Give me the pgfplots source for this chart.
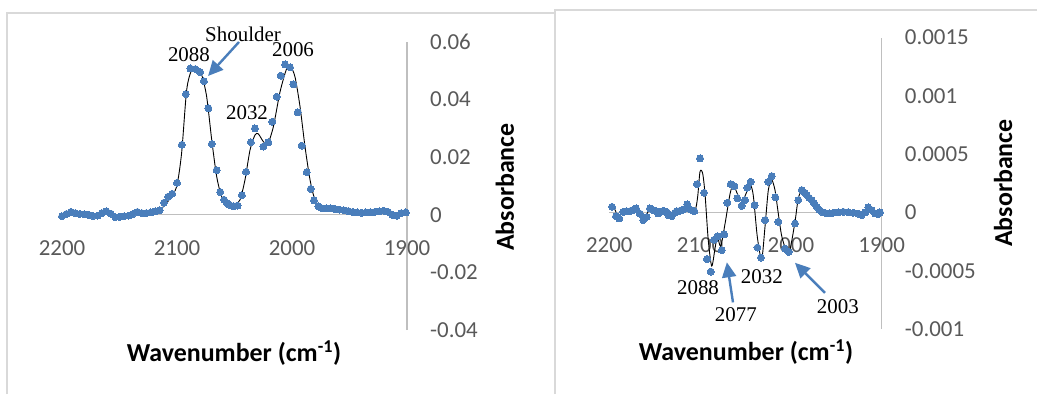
\documentclass[border=0pt]{standalone}
\usepackage{pgfplots}
\pgfplotsset{compat=1.18}
\usepackage{fontspec}
\setmainfont{Carlito}
\newfontfamily\timesf{Liberation Serif}
\usetikzlibrary{arrows.meta}
\definecolor{dotblue}{RGB}{74,126,187}
\definecolor{axgray}{RGB}{191,191,191}
\definecolor{tickgray}{RGB}{89,89,89}
\definecolor{framegray}{RGB}{217,217,217}

\pgfplotsset{
  irstyle/.style={
    scale only axis,
    clip=false,
    x dir=reverse,
    xmin=1900, xmax=2200,
    axis x line=middle,
    axis y line=right,
    axis line style={-, draw=axgray, line width=1.3bp},
    every inner x axis line/.append style={-},
    every outer y axis line/.append style={-},
    every inner y axis line/.append style={-},
    hide obscured x ticks=false,
    scaled y ticks=false,
    scaled x ticks=false,
    major tick length=0pt,
    xtick={1900,2000,2100,2200},
    xticklabels={1900,2000,2100,2200},
    tick label style={font=\fontsize{23}{23}\selectfont, text=tickgray},
    xticklabel style={anchor=center, yshift=-33bp},
    yticklabel style={anchor=west, inner sep=0pt, xshift=23bp},
  },
  dots/.style={only marks, color=dotblue, mark=*, mark size=3.5bp, mark options={draw=dotblue, fill=dotblue, line width=0pt}},
  fitline/.style={black, line width=0.9bp, no marks, smooth, tension=0.45},
}
\tikzset{
  annot/.style={font=\timesf\fontsize{21}{21}\selectfont, text=black, inner sep=0pt},
  arr/.style={draw=dotblue, line width=2.4bp, -{Triangle[length=15bp,width=14bp]}},
  ttl/.style={font=\bfseries\fontsize{26}{26}\selectfont, text=black, inner sep=0pt},
}

\begin{document}
\begin{tikzpicture}[x=1bp,y=1bp]
\path[use as bounding box] (0,0) rectangle (1037,394);
% panel frames
\draw[framegray, line width=1.5bp] (7,0) -- (7,381) -- (555,381);
\draw[framegray, line width=1.5bp] (555,0) -- (555,384) -- (1037,384);

% ---------------- left panel ----------------
\begin{axis}[irstyle, at={(234.5bp,208bp)}, anchor=center, width=345bp, height=288bp,
  ymin=-0.04, ymax=0.06, ytick={-0.04,-0.02,0,0.02,0.04,0.06},
  yticklabels={-0.04,-0.02,0,0.02,0.04,0.06}]
\addplot[dots] table {
x y
2200.0 -0.0005
2196.1 0.0003
2192.3 0.0010
2188.4 0.0006
2184.6 0.0003
2180.7 0.0002
2176.9 0.0000
2173.0 -0.0004
2169.1 -0.0003
2165.3 0.0006
2161.4 0.0012
2157.6 0.0004
2153.7 -0.0008
2149.9 -0.0007
2146.0 -0.0005
2142.1 -0.0003
2138.3 0.0003
2134.4 0.0010
2130.6 0.0006
2126.7 0.0006
2122.9 0.0008
2119.0 0.0012
2115.1 0.0016
2111.3 0.0042
2107.6 0.0063
2104.2 0.0073
2100.0 0.0111
2095.8 0.0243
2092.3 0.0419
2088.4 0.0508
2084.0 0.0506
2080.0 0.0496
2076.6 0.0464
2072.7 0.0370
2069.7 0.0246
2065.5 0.0155
2062.4 0.0079
2059.0 0.0052
2056.5 0.0040
2054.4 0.0035
2050.8 0.0030
2047.3 0.0032
2043.6 0.0068
2040.0 0.0149
2035.8 0.0252
2032.2 0.0300
2024.9 0.0237
2020.6 0.0252
2017.1 0.0323
2013.3 0.0410
2009.8 0.0483
2006.0 0.0522
2001.7 0.0512
1998.8 0.0453
1995.0 0.0356
1991.6 0.0240
1987.2 0.0148
1983.7 0.0090
1980.9 0.0050
1977.1 0.0029
1974.2 0.0023
1970.4 0.0022
1966.5 0.0022
1962.7 0.0020
1958.8 0.0018
1955.0 0.0016
1951.1 0.0013
1947.2 0.0010
1943.4 0.0008
1939.5 0.0007
1935.7 0.0008
1931.8 0.0009
1928.0 0.0010
1924.1 0.0012
1920.3 0.0014
1916.4 0.0010
1912.6 0.0000
1908.7 -0.0003
1904.9 0.0006
1901.0 0.0008
};
\addplot[fitline] table {
x y
2198.0 0.0002
2194.0 0.0008
2190.0 0.0010
2185.0 0.0006
2180.0 0.0004
2175.0 0.0001
2170.0 -0.0001
2165.0 0.0004
2161.0 0.0009
2157.0 0.0004
2152.5 -0.0003
2148.0 -0.0002
2141.0 0.0000
2136.0 0.0006
2132.0 0.0009
2126.0 0.0008
2120.6 0.0013
2113.3 0.0023
2109.0 0.0040
2106.0 0.0058
2100.3 0.0098
2096.0 0.0214
2091.6 0.0433
2087.2 0.0503
2082.9 0.0503
2078.5 0.0485
2074.2 0.0410
2069.8 0.0260
2065.5 0.0133
2061.1 0.0063
2055.4 0.0041
2049.6 0.0035
2045.2 0.0052
2040.9 0.0121
2036.5 0.0225
2032.2 0.0277
2029.3 0.0281
2024.9 0.0254
2021.1 0.0246
2016.2 0.0306
2010.4 0.0427
2004.6 0.0508
2001.2 0.0514
1997.4 0.0479
1993.0 0.0375
1988.7 0.0237
1984.3 0.0121
1980.0 0.0052
1974.2 0.0025
1964.0 0.0021
1955.0 0.0016
1945.0 0.0010
1935.0 0.0008
1925.0 0.0012
1920.0 0.0013
1915.0 0.0008
1911.0 0.0001
1906.0 0.0005
1902.0 0.0007
1899.5 0.0006
};
\node[annot] at (axis cs:2042.6,0.0625) {Shoulder};
\node[annot] at (axis cs:2089.6,0.0555) {2088};
\node[annot] at (axis cs:1999.1,0.0575) {2006};
\node[annot] at (axis cs:2039.1,0.0354) {2032};
\draw[arr] (axis cs:2046.1,0.0600) -- (axis cs:2073.0,0.0482);
\end{axis}

% ---------------- right panel ----------------
\begin{axis}[irstyle, at={(745.5bp,210.7bp)}, anchor=center, width=272.4bp, height=291.3bp,
  ymin=-0.001, ymax=0.0015, ytick={-0.001,-0.0005,0,0.0005,0.001,0.0015},
  yticklabels={-0.001,-0.0005,0,0.0005,0.001,0.0015}]
\addplot[dots] table {
x y
2197.0 0.000048
2192.6 -0.000032
2189.0 -0.000052
2184.6 0.000005
2181.0 0.000010
2177.0 0.000012
2173.5 0.000022
2170.6 0.000034
2166.5 -0.000010
2162.6 -0.000066
2159.0 -0.000040
2155.2 0.000034
2151.5 0.000020
2148.0 0.000010
2146.0 -0.000009
2140.5 0.000014
2137.0 0.000005
2135.0 -0.000023
2131.3 -0.000032
2128.0 -0.000005
2125.8 0.000011
2122.0 0.000015
2120.3 0.000020
2117.0 0.000030
2114.1 0.000069
2109.5 0.000020
2106.4 0.000011
2103.4 0.000243
2100.1 0.000464
2095.7 0.000169
2092.4 -0.000400
2088.3 -0.000508
2084.7 -0.000235
2080.8 -0.000204
2076.2 -0.000324
2073.5 -0.000189
2070.0 0.000083
2066.3 0.000243
2062.2 0.000226
2059.0 0.000120
2054.3 0.000057
2050.6 0.000106
2048.0 0.000212
2044.3 0.000263
2040.0 0.000063
2036.8 -0.000301
2033.0 -0.000387
2028.5 -0.000066
2024.9 0.000263
2021.2 0.000312
2017.1 0.000129
2013.9 -0.000081
2006.5 -0.000310
2002.5 -0.000339
1995.5 -0.000095
1991.9 0.000106
1988.1 0.000192
1985.0 0.000170
1982.6 0.000149
1980.0 0.000125
1977.1 0.000106
1974.5 0.000080
1971.6 0.000048
1968.5 0.000020
1966.1 0.000005
1962.0 -0.000005
1958.0 -0.000009
1953.3 -0.000003
1948.0 0.000000
1942.3 0.000005
1937.0 0.000002
1931.3 -0.000003
1926.0 -0.000010
1922.1 -0.000023
1918.0 0.000000
1914.8 0.000043
1911.0 0.000020
1907.4 -0.000009
1904.0 -0.000015
1901.9 0.000000
};
\addplot[fitline] table {
x y
2200.0 0.000035
2195.6 0.000048
2190.0 -0.000032
2184.6 0.000005
2177.2 0.000005
2169.8 0.000034
2161.5 -0.000038
2155.2 0.000026
2146.0 0.000020
2138.7 0.000005
2133.2 -0.000023
2125.8 0.000020
2118.5 0.000020
2113.0 0.000048
2105.6 0.000020
2102.7 0.000134
2100.1 0.000350
2097.2 0.000335
2094.6 0.000160
2091.0 -0.000240
2087.2 -0.000460
2083.6 -0.000310
2081.0 -0.000210
2077.3 -0.000290
2072.5 -0.000095
2067.0 0.000160
2063.4 0.000240
2059.0 0.000160
2054.3 0.000100
2050.6 0.000140
2045.1 0.000235
2041.5 0.000150
2037.0 -0.000210
2032.2 -0.000400
2028.5 -0.000120
2024.9 0.000190
2021.2 0.000280
2017.5 0.000190
2013.9 -0.000009
2010.2 -0.000200
2005.4 -0.000320
2001.1 -0.000320
1995.5 -0.000080
1991.9 0.000120
1988.1 0.000180
1982.6 0.000135
1977.0 0.000100
1971.6 0.000040
1966.0 0.000005
1960.0 -0.000010
1950.0 -0.000005
1940.0 0.000005
1930.0 -0.000005
1922.0 -0.000020
1918.0 -0.000015
1914.8 0.000040
1910.0 0.000010
1906.0 -0.000010
1902.0 0.000000
1900.0 0.000000
};
\node[annot] at (axis cs:2102.3,-0.000642) {2088};
\node[annot] at (axis cs:2060.6,-0.000875) {2077};
\node[annot] at (axis cs:2032.0,-0.000555) {2032};
\node[annot] at (axis cs:1948.3,-0.000805) {2003};
\draw[arr] (axis cs:2063.8,-0.000772) -- (axis cs:2070.5,-0.000428);
\draw[arr] (axis cs:1962.5,-0.000690) -- (axis cs:1995.5,-0.000432);
\end{axis}

% axis titles
\node[ttl] at (234,41) {Wavenumber (cm\textsuperscript{-1})};
\node[ttl, rotate=90] at (505,207) {Absorbance};
\node[ttl] at (746,42) {Wavenumber (cm\textsuperscript{-1})};
\node[ttl, rotate=90] at (1003,211) {Absorbance};
\end{tikzpicture}
\end{document}
